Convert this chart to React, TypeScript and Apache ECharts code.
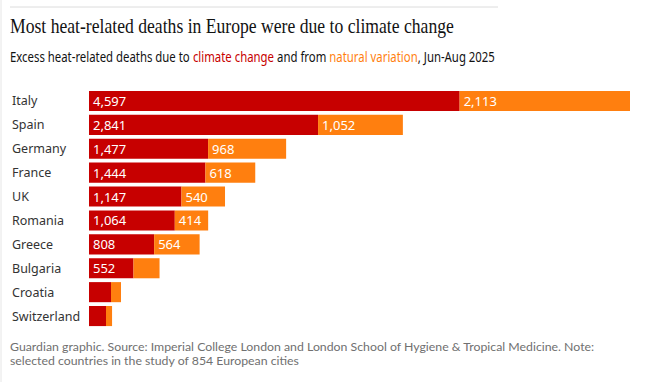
import React, { useEffect, useRef } from "react";
import * as echarts from "echarts";

const countries = ["Italy", "Spain", "Germany", "France", "UK", "Romania", "Greece", "Bulgaria", "Croatia", "Switzerland"];
const climateChange = [4597, 2841, 1477, 1444, 1147, 1064, 808, 552, 273, 211];
const naturalVariation = [2113, 1052, 968, 618, 540, 414, 564, 323, 124, 75];

const RED = "#c70000";
const ORANGE = "#ff7f0f";

export default function App() {
  const ref = useRef<HTMLDivElement>(null);
  useEffect(() => {
    document.body.style.margin = "0";
    const chart = echarts.init(ref.current!, null, { renderer: "svg" });
    const maxTotal = Math.max(...climateChange.map((v, i) => v + naturalVariation[i]));
    const labelFmt = (p: any) => (p.value >= 400 ? Number(p.value).toLocaleString("en-US") : "");
    chart.setOption({
      animation: false,
      backgroundColor: "#ffffff",
      graphic: [
        { type: "line", shape: { x1: 10, y1: 7, x2: 498, y2: 7 }, style: { stroke: "#dcdcdc", lineWidth: 1 } },
        { type: "line", shape: { x1: 1, y1: 0, x2: 1, y2: 382 }, style: { stroke: "#e6e6e6", lineWidth: 1 } },
        {
          type: "text",
          x: 10,
          y: 15,
          scaleX: 0.84,
          style: {
            text: "Most heat-related deaths in Europe were due to climate change",
            fontFamily: "'Liberation Serif', serif",
            fontSize: 21,
            fill: "#121212",
            verticalAlign: "top",
          },
        },
        {
          type: "text",
          x: 10,
          y: 49,
          scaleX: 0.785,
          style: {
            text: "Excess heat-related deaths due to {r|climate change} and from {o|natural variation}, Jun-Aug 2025",
            fontFamily: "Noto Sans",
            fontSize: 14.5,
            fill: "#121212",
            verticalAlign: "top",
            rich: {
              r: { fontFamily: "Noto Sans", fontSize: 14.5, fill: RED },
              o: { fontFamily: "Noto Sans", fontSize: 14.5, fill: ORANGE },
            },
          },
        },
        {
          type: "text",
          x: 10,
          y: 339,
          style: {
            text: "Guardian graphic. Source: Imperial College London and London School of Hygiene & Tropical Medicine. Note:\nselected countries in the study of 854 European cities",
            fontFamily: "Lato",
            fontSize: 12.3,
            lineHeight: 14,
            fill: "#707070",
          },
        },
      ],
      grid: { left: 89, right: 32, top: 89, bottom: 54, containLabel: false },
      xAxis: { type: "value", min: 0, max: maxTotal, show: false },
      yAxis: {
        type: "category",
        data: countries,
        inverse: true,
        axisLine: { show: false },
        axisTick: { show: false },
        axisLabel: { align: "left", margin: 77, fontFamily: "Noto Sans", fontSize: 12.5, color: "#333333" },
      },
      series: [
        {
          type: "bar",
          stack: "t",
          data: climateChange,
          barCategoryGap: "16%",
          itemStyle: { color: RED },
          label: { show: true, position: "insideLeft", distance: 4, formatter: labelFmt, color: "#ffffff", fontFamily: "Noto Sans", fontSize: 13 },
        },
        {
          type: "bar",
          stack: "t",
          data: naturalVariation,
          barCategoryGap: "16%",
          itemStyle: { color: ORANGE },
          label: { show: true, position: "insideLeft", distance: 4, formatter: labelFmt, color: "#ffffff", fontFamily: "Noto Sans", fontSize: 13 },
        },
      ],
    });
    return () => chart.dispose();
  }, []);
  return <div ref={ref} style={{ width: 662, height: 382 }} />;
}
